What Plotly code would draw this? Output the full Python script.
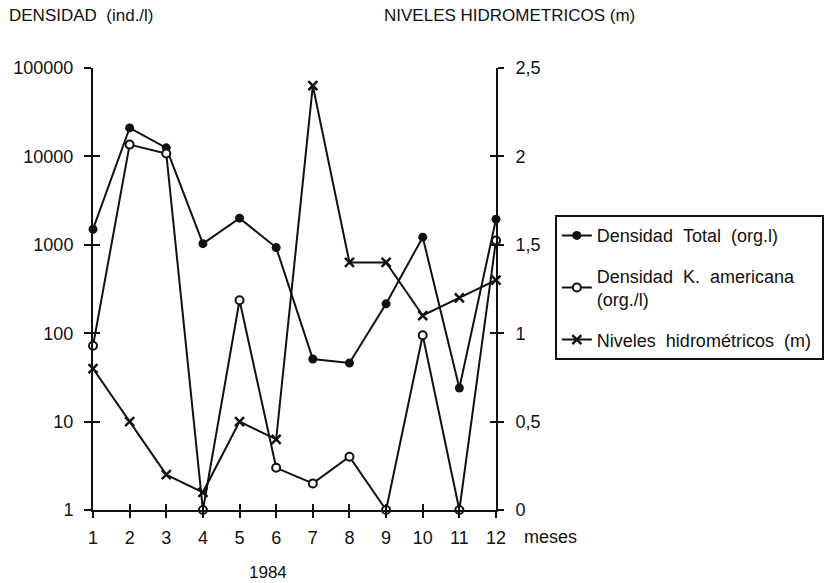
import plotly.graph_objects as go

months = [1, 2, 3, 4, 5, 6, 7, 8, 9, 10, 11, 12]
densidad_total = [1500, 21000, 12500, 1030, 2000, 930, 51, 46, 215, 1220, 24, 1950]
densidad_k_americana = [72, 13600, 10800, 1, 236, 3, 2, 4, 1, 95, 1, 1120]
niveles = [0.8, 0.5, 0.2, 0.1, 0.5, 0.4, 2.4, 1.4, 1.4, 1.1, 1.2, 1.3]

left_tickvals = [1, 10, 100, 1000, 10000, 100000]
left_ticktext = ["1", "10", "100", "1000", "10000", "100000"]
right_tickvals = [0, 0.5, 1, 1.5, 2, 2.5]
right_ticktext = ["0", "0,5", "1", "1,5", "2", "2,5"]

FONT = "Liberation Sans, Arial, sans-serif"
BLACK = "#111111"
SP = "\u00a0"

fig = go.Figure()

fig.add_trace(go.Scatter(
    x=months, y=densidad_total, mode="lines+markers",
    name="Densidad" + SP * 2 + "Total" + SP * 2 + "(org.l)", legendgroup="a",
    line=dict(color=BLACK, width=2),
    marker=dict(symbol="circle", size=9, color=BLACK),
    cliponaxis=False, xaxis="x", yaxis="y"))

fig.add_trace(go.Scatter(
    x=months, y=densidad_k_americana, mode="lines+markers",
    name="Densidad" + SP * 2 + "K." + SP * 2 + "americana<br>(org./l)", legendgroup="b",
    line=dict(color=BLACK, width=2),
    marker=dict(symbol="circle", size=8, color="white", line=dict(color=BLACK, width=2)),
    cliponaxis=False, xaxis="x", yaxis="y"))

fig.add_trace(go.Scatter(
    x=months, y=niveles, mode="lines+markers",
    name="Niveles" + SP * 2 + "hidrométricos" + SP * 2 + "(m)" + SP, legendgroup="c",
    line=dict(color=BLACK, width=2),
    marker=dict(symbol="x-thin", size=9, color=BLACK, line=dict(color=BLACK, width=2.5)),
    cliponaxis=False, xaxis="x", yaxis="y2"))

# invisible traces so the inner-tick overlay axes get drawn
fig.add_trace(go.Scatter(x=months[:1], y=left_tickvals[:1], xaxis="x2", yaxis="y3",
                         mode="markers", marker=dict(opacity=0),
                         showlegend=False, hoverinfo="skip"))
fig.add_trace(go.Scatter(x=months[:1], y=right_tickvals[:1], xaxis="x", yaxis="y4",
                         mode="markers", marker=dict(opacity=0),
                         showlegend=False, hoverinfo="skip"))

tickfont = dict(family=FONT, size=18, color=BLACK)

fig.update_layout(
    width=839, height=583,
    margin=dict(l=93, r=343, t=68, b=73),
    paper_bgcolor="white", plot_bgcolor="white",
    font=dict(family=FONT, color=BLACK),
    xaxis=dict(range=[1, 12], tickvals=months, ticktext=[str(m) for m in months],
               ticks="outside", ticklen=6, tickwidth=2, tickcolor=BLACK,
               showline=True, linewidth=2, linecolor=BLACK, showgrid=False,
               zeroline=False, tickfont=tickfont, anchor="y", ticklabelstandoff=4),
    xaxis2=dict(range=[1, 12], overlaying="x", anchor="y3", side="bottom",
                tickvals=months, ticks="inside", ticklen=6, tickwidth=2, tickcolor=BLACK,
                showticklabels=False, showline=False, showgrid=False, zeroline=False),
    yaxis=dict(type="log", range=[0, 5], tickvals=left_tickvals, ticktext=left_ticktext,
               ticks="outside", ticklen=7, tickwidth=2, tickcolor=BLACK,
               showline=True, linewidth=2, linecolor=BLACK, showgrid=False,
               zeroline=False, tickfont=tickfont, anchor="x", ticklabelstandoff=7),
    yaxis2=dict(range=[0, 2.5], overlaying="y", side="right", anchor="x",
                tickvals=right_tickvals, ticktext=right_ticktext,
                ticks="outside", ticklen=6, tickwidth=2, tickcolor=BLACK,
                showline=True, linewidth=2, linecolor=BLACK, showgrid=False,
                zeroline=False, tickfont=tickfont, ticklabelstandoff=8),
    yaxis3=dict(type="log", range=[0, 5], overlaying="y", side="left", anchor="x2",
                tickvals=left_tickvals, ticks="inside", ticklen=7, tickwidth=2,
                tickcolor=BLACK, showticklabels=False, showline=False, showgrid=False,
                zeroline=False),
    yaxis4=dict(range=[0, 2.5], overlaying="y", side="right", anchor="x",
                tickvals=right_tickvals, ticks="inside", ticklen=6, tickwidth=2,
                tickcolor=BLACK, showticklabels=False, showline=False, showgrid=False,
                zeroline=False),
    legend=dict(x=1.146, y=0.667, xanchor="left", yanchor="top",
                bordercolor=BLACK, borderwidth=2, bgcolor="white",
                font=dict(family=FONT, size=18, color=BLACK),
                itemwidth=30, tracegroupgap=14),
    showlegend=True,
    annotations=[
        dict(text="DENSIDAD" + SP * 2 + "(ind./l)", xref="paper", yref="paper",
             x=-0.213, y=1.0, yshift=53, xanchor="left", yanchor="middle",
             showarrow=False, font=dict(family=FONT, size=17, color=BLACK)),
        dict(text="NIVELES HIDROMETRICOS (m)", xref="paper", yref="paper",
             x=0.717, y=1.0, yshift=53, xanchor="left", yanchor="middle",
             showarrow=False, font=dict(family=FONT, size=17, color=BLACK)),
        dict(text="meses", xref="paper", yref="paper",
             x=1.065, y=0, yshift=-27, xanchor="left", yanchor="middle",
             showarrow=False, font=dict(family=FONT, size=18, color=BLACK)),
        dict(text="1984", xref="paper", yref="paper",
             x=0.434, y=0, yshift=-62, xanchor="center", yanchor="middle",
             showarrow=False, font=dict(family=FONT, size=17, color=BLACK)),
    ],
)

fig.write_html("out.html", config={"displayModeBar": False},
               post_script="document.body.style.margin='0px';document.body.style.overflow='hidden';")
